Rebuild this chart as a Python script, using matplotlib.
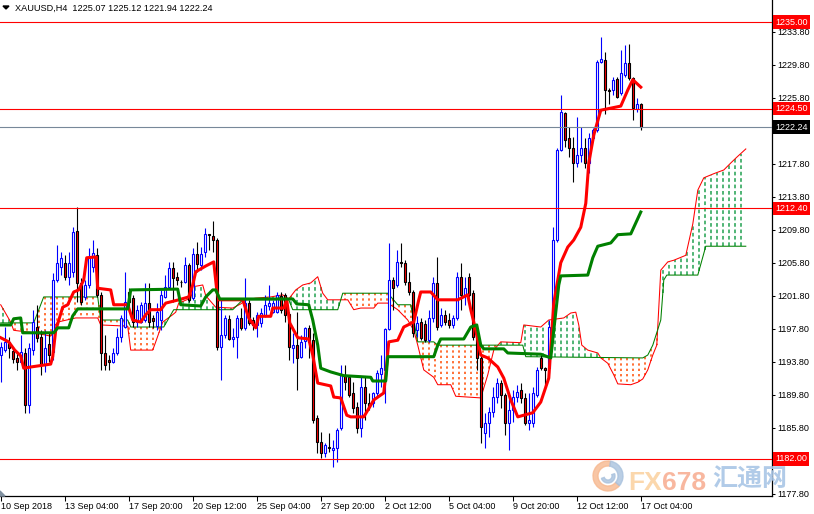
import numpy as np
import matplotlib.pyplot as plt
from matplotlib.patches import Rectangle, Wedge, Polygon
from matplotlib.collections import LineCollection
from matplotlib.transforms import IdentityTransform

plt.rcParams['font.family'] = ['Liberation Sans', 'DejaVu Sans']

# H4 candles, one per bar (index 0 = leftmost visible bar)
opens = [1194.6, 1195.2, 1196.2, 1195.1, 1194.25, 1193.8, 1194.85, 1188.5, 1195.2, 1198.0,
         1196.8, 1193.4, 1195.9, 1195.0, 1203.7, 1205.3, 1205.8, 1204.1, 1204.7, 1209.65,
         1203.35, 1201.65, 1203.1, 1205.3, 1206.7, 1201.9, 1194.85, 1194.0, 1193.76, 1194.85,
         1196.8, 1198.0, 1202.25, 1201.5, 1198.6, 1198.6, 1198.85, 1200.9, 1199.1, 1198.1,
         1198.85, 1201.65, 1202.9, 1205.2, 1204.1, 1203.5, 1203.5, 1205.5, 1201.5, 1206.9,
         1205.5, 1207.1, 1209.3, 1209.0, 1208.56, 1195.58, 1197.0, 1199.0, 1196.55, 1196.8,
         1199.1, 1197.9, 1200.9, 1198.85, 1198.25, 1198.5, 1199.5, 1200.55, 1199.8, 1199.8,
         1201.8, 1201.9, 1199.6, 1195.5, 1195.8, 1194.4, 1196.3, 1197.9, 1196.4, 1187.0,
         1184.1, 1182.7, 1183.45, 1183.1, 1183.3, 1185.75, 1192.2, 1191.9, 1190.0, 1188.3,
         1185.75, 1190.7, 1188.8, 1188.8, 1190.0, 1192.3, 1192.8, 1197.8, 1203.7, 1203.1,
         1205.9, 1205.8, 1203.5, 1202.25, 1197.6, 1198.6, 1198.4, 1196.4, 1199.1, 1203.35,
         1198.25, 1199.5, 1198.85, 1198.25, 1199.1, 1204.1, 1201.9, 1204.1, 1202.1, 1196.7,
         1194.25, 1185.15, 1186.4, 1187.7, 1189.5, 1191.2, 1189.8, 1186.4, 1187.9, 1189.5,
         1190.4, 1189.4, 1186.4, 1186.4, 1189.8, 1194.2, 1193.0, 1193.0, 1198.0, 1208.6,
         1219.5, 1224.0, 1220.9, 1219.7, 1217.9, 1218.9, 1219.7, 1217.9, 1220.9, 1221.9,
         1230.15, 1230.4, 1226.75, 1226.75, 1228.1, 1226.4, 1228.57, 1230.0, 1228.2, 1224.4,
         1225.07]
highs = [1196.2, 1198.0, 1196.8, 1195.6, 1195.0, 1197.0, 1195.5, 1196.1, 1200.1, 1200.7,
         1197.6, 1197.6, 1197.3, 1204.6, 1208.0, 1207.1, 1206.7, 1207.1, 1210.1, 1212.56,
         1204.0, 1203.7, 1207.6, 1208.56, 1207.6, 1202.25, 1197.0, 1194.6, 1195.5, 1197.9,
         1199.5, 1204.7, 1202.7, 1201.9, 1200.7, 1201.0, 1203.35, 1203.35, 1199.5, 1200.9,
         1202.5, 1204.3, 1205.9, 1205.9, 1204.7, 1203.7, 1206.5, 1205.8, 1207.6, 1208.3,
         1207.7, 1210.0, 1209.3, 1210.9, 1208.8, 1201.3, 1199.5, 1199.5, 1197.9, 1199.5,
         1200.3, 1204.0, 1201.3, 1199.2, 1199.8, 1200.3, 1201.9, 1203.1, 1201.3, 1202.25,
         1202.25, 1202.1, 1199.8, 1197.3, 1199.8, 1197.0, 1198.0, 1198.25, 1197.3, 1187.3,
         1185.3, 1183.9, 1185.15, 1184.3, 1185.75, 1193.4, 1193.4, 1192.2, 1191.3, 1188.9,
         1191.9, 1191.9, 1190.0, 1190.1, 1192.8, 1194.6, 1197.9, 1208.2, 1204.1, 1207.35,
         1208.2, 1206.1, 1204.7, 1202.5, 1199.3, 1199.1, 1198.85, 1200.1, 1204.1, 1206.5,
         1200.3, 1200.1, 1199.7, 1199.5, 1204.7, 1205.8, 1204.1, 1204.6, 1202.5, 1197.0,
         1194.6, 1187.6, 1188.3, 1190.7, 1191.8, 1191.6, 1190.0, 1189.8, 1190.4, 1191.0,
         1191.2, 1190.0, 1190.0, 1190.7, 1193.2, 1194.85, 1193.15, 1198.85, 1210.1, 1219.7,
         1226.15, 1224.1, 1222.3, 1221.05, 1223.5, 1222.3, 1220.9, 1221.5, 1222.1, 1230.4,
         1233.2, 1231.4, 1227.0, 1228.3, 1228.3, 1231.6, 1232.2, 1232.3, 1228.3, 1225.8,
         1225.12]
lows = [1191.3, 1195.0, 1194.25, 1193.6, 1192.8, 1193.8, 1187.6, 1187.6, 1194.6, 1196.2,
        1192.2, 1192.5, 1193.8, 1194.0, 1203.5, 1204.3, 1203.7, 1203.1, 1204.1, 1201.0,
        1200.7, 1201.3, 1202.7, 1204.7, 1201.65, 1192.8, 1192.8, 1192.8, 1193.6, 1194.6,
        1196.2, 1197.9, 1200.4, 1198.0, 1198.0, 1198.5, 1198.6, 1198.0, 1197.9, 1197.6,
        1197.6, 1201.5, 1202.7, 1201.0, 1203.1, 1202.9, 1203.35, 1201.0, 1201.3, 1204.7,
        1204.9, 1206.5, 1207.35, 1207.1, 1195.2, 1191.6, 1196.7, 1196.4, 1195.6, 1194.25,
        1197.6, 1197.6, 1198.25, 1197.6, 1196.8, 1198.0, 1199.2, 1200.1, 1199.7, 1199.7,
        1199.7, 1198.6, 1194.0, 1193.6, 1190.4, 1194.25, 1195.5, 1194.25, 1186.4, 1182.7,
        1182.1, 1182.2, 1182.85, 1181.0, 1181.6, 1185.5, 1190.4, 1189.5, 1187.6, 1185.15,
        1184.7, 1186.7, 1187.9, 1188.3, 1189.5, 1190.7, 1188.8, 1197.6, 1200.1, 1202.9,
        1205.3, 1203.1, 1201.9, 1196.8, 1196.8, 1196.4, 1196.2, 1196.2, 1198.6, 1197.6,
        1198.0, 1198.25, 1197.9, 1197.9, 1198.85, 1200.1, 1200.7, 1201.65, 1196.4, 1192.8,
        1183.9, 1183.3, 1184.7, 1187.1, 1188.8, 1188.2, 1184.9, 1183.1, 1186.5, 1188.9,
        1188.8, 1186.1, 1185.5, 1185.9, 1189.5, 1192.8, 1190.7, 1192.4, 1197.9, 1208.3,
        1219.3, 1219.8, 1218.6, 1215.6, 1217.4, 1218.0, 1217.3, 1216.7, 1220.7, 1221.65,
        1230.0, 1223.9, 1225.0, 1226.15, 1225.8, 1226.15, 1228.3, 1228.0, 1223.1, 1224.1,
        1221.94]
closes = [1195.6, 1196.2, 1195.5, 1194.1, 1193.8, 1195.0, 1188.5, 1195.5, 1198.6, 1196.7,
          1193.4, 1195.5, 1194.6, 1203.7, 1205.8, 1206.4, 1204.1, 1205.8, 1209.5, 1203.35,
          1201.0, 1203.1, 1206.4, 1207.0, 1201.9, 1194.85, 1193.4, 1193.76, 1194.85, 1196.8,
          1199.1, 1201.0, 1201.0, 1198.6, 1200.1, 1200.7, 1200.9, 1198.6, 1198.7, 1199.8,
          1201.9, 1202.9, 1205.2, 1204.0, 1203.7, 1203.4, 1205.5, 1201.3, 1206.9, 1205.65,
          1206.9, 1209.3, 1209.2, 1208.56, 1195.58, 1197.0, 1199.1, 1196.55, 1196.8, 1199.1,
          1197.9, 1200.9, 1198.5, 1198.25, 1199.5, 1199.7, 1200.7, 1200.9, 1200.9, 1201.9,
          1200.1, 1199.5, 1195.6, 1195.8, 1194.25, 1196.2, 1197.9, 1196.2, 1186.7, 1184.1,
          1182.7, 1183.7, 1183.3, 1183.3, 1185.5, 1192.2, 1191.3, 1189.8, 1188.2, 1185.75,
          1190.7, 1188.8, 1188.3, 1190.0, 1192.4, 1193.0, 1197.8, 1203.7, 1202.7, 1205.9,
          1205.8, 1203.5, 1202.25, 1197.3, 1198.5, 1196.7, 1196.4, 1199.1, 1203.35, 1198.0,
          1199.5, 1198.6, 1198.25, 1199.1, 1204.1, 1201.9, 1202.7, 1201.9, 1196.8, 1194.25,
          1185.9, 1186.36, 1187.7, 1189.5, 1191.2, 1189.8, 1186.4, 1187.9, 1189.5, 1190.1,
          1189.4, 1186.4, 1186.7, 1190.0, 1192.8, 1193.0, 1192.8, 1198.0, 1208.6, 1219.5,
          1224.1, 1220.7, 1219.7, 1217.9, 1218.9, 1219.7, 1217.9, 1220.9, 1221.9, 1230.15,
          1230.5, 1226.75, 1226.6, 1228.0, 1225.9, 1228.8, 1230.0, 1228.2, 1224.6, 1225.05,
          1222.24]

# Ichimoku lines (bar position, price)
tenkan_x = [0, 2, 3.5, 5, 5.75, 7.5, 12.5, 13, 13.75, 15.5, 16.75, 18.25, 19.5, 20.75, 21.5,
            23.75, 24.25, 27.5, 28.25, 31.75, 33, 35, 36.25, 37.5, 40, 41.25, 44.5, 47, 48,
            48.75, 51.25, 53.25, 54, 54.5, 60.5, 62, 63.75, 64.5, 67.5, 68, 70.75, 71.5, 72.25,
            74.25, 77, 78, 79.25, 82.5, 83.25, 85, 86.5, 87.5, 90.75, 91.75, 93.25, 95.75,
            96.25, 97, 99.25, 100.75, 103.25, 104.5, 105, 107.5, 109.25, 114.25, 116.75, 117.5,
            118.75, 120, 121.75, 124.25, 125.75, 127.5, 129.25, 133, 135, 137, 138.25, 140,
            141.75, 143.25, 145, 146.25, 147, 148.25, 150, 155, 156.75, 158, 160]
tenkan_y = [1196.7, 1196.2, 1195.2, 1194.5, 1193.0, 1193.15, 1193.5, 1194.4, 1197.6, 1200.4,
            1200.7, 1202.25, 1202.5, 1203.7, 1206.4, 1206.5, 1202.7, 1202.5, 1200.7, 1200.7,
            1198.85, 1198.6, 1199.5, 1200.1, 1200.1, 1200.9, 1201.3, 1201.65, 1203.1, 1204.7,
            1205.4, 1205.9, 1202.5, 1201.3, 1201.3, 1199.1, 1197.9, 1199.3, 1199.3, 1200.3,
            1200.3, 1201.3, 1198.5, 1196.7, 1196.55, 1194.6, 1191.2, 1190.85, 1189.5, 1189.4,
            1187.3, 1187.1, 1187.1, 1187.9, 1189.15, 1190.0, 1192.2, 1196.2, 1196.4, 1198.0,
            1198.6, 1201.3, 1202.25, 1202.25, 1201.3, 1201.3, 1201.9, 1200.1, 1197.6, 1194.6,
            1194.25, 1193.15, 1191.8, 1189.15, 1187.1, 1187.6, 1188.9, 1191.8, 1200.9, 1205.8,
            1207.7, 1208.56, 1210.1, 1213.0, 1217.9, 1221.3, 1224.3, 1224.8, 1226.75, 1228.0,
            1227.1]
kijun_x = [0, 2.5, 3.25, 5, 5.5, 13.25, 14.25, 17, 18, 19.25, 31.75, 32.5, 44.25, 45, 50,
           51.25, 53, 53.75, 54.75, 73, 74, 77, 78, 79.25, 80, 82.5, 85.75, 92.5, 93, 96.25,
           96.75, 108.25, 109.25, 110, 115.75, 117.5, 119, 120, 120.75, 125.75, 126.75, 135,
           137.5, 138.25, 139.5, 140, 146.75, 148, 149.25, 152.5, 154.25, 157.5, 160]
kijun_y = [1198.25, 1198.25, 1199.0, 1199.1, 1197.3, 1197.3, 1197.9, 1197.9, 1199.35, 1200.2,
           1200.2, 1202.5, 1202.6, 1200.7, 1200.55, 1201.65, 1202.5, 1202.5, 1201.4, 1201.4,
           1200.8, 1200.7, 1198.85, 1195.8, 1193.0, 1192.55, 1192.1, 1191.9, 1191.45, 1191.45,
           1194.4, 1194.4, 1195.8, 1196.55, 1196.55, 1198.0, 1198.25, 1195.8, 1195.35, 1195.35,
           1194.85, 1194.7, 1194.25, 1197.6, 1203.1, 1204.2, 1204.3, 1206.4, 1207.8, 1208.2,
           1209.2, 1209.3, 1211.95]
span_a_x = [0, 2.5, 3.25, 8.25, 12.5, 13.25, 14.25, 18.75, 24.25, 25, 31.75, 32.5, 38, 38.75,
            40.5, 43, 43.75, 44.5, 47.5, 48.25, 50.5, 51.25, 53.75, 58, 60, 61.25, 63.75, 67.5,
            70.5, 72, 73.75, 75.5, 77.5, 79.25, 80.5, 81.75, 86.75, 88.25, 90, 93.25, 94.25,
            96.75, 99.25, 101.75, 103.25, 104.25, 105.75, 108.25, 109.25, 112.5, 113.75, 120,
            121.75, 123.25, 125, 130, 130.75, 135, 137, 140.75, 142.5, 143.75, 144.5, 145.25,
            146.75, 149.25, 150, 151.75, 153.25, 154.25, 157.5, 159.25, 160.5, 161.75, 163,
            164, 165, 166.75, 168.25, 171.25, 173, 174.25, 175.75, 178.25, 180.75, 182.5, 184,
            186.25]
span_a_y = [1200.7, 1198.6, 1197.6, 1197.3, 1196.9, 1198.0, 1198.6, 1199.1, 1199.1, 1198.25,
            1198.1, 1195.2, 1195.2, 1196.2, 1198.6, 1199.5, 1199.8, 1200.9, 1201.5, 1202.9,
            1203.1, 1201.8, 1200.4, 1200.3, 1200.8, 1201.3, 1201.5, 1201.65, 1201.9, 1201.4,
            1202.5, 1203.1, 1203.35, 1204.1, 1202.1, 1201.3, 1201.3, 1200.1, 1200.3, 1200.3,
            1200.9, 1200.9, 1200.1, 1198.85, 1197.6, 1195.8, 1192.8, 1191.9, 1191.0, 1191.0,
            1189.6, 1189.4, 1192.2, 1195.2, 1196.2, 1196.1, 1198.25, 1198.0, 1198.85, 1199.1,
            1199.7, 1199.8, 1198.25, 1195.8, 1195.2, 1194.85, 1194.25, 1193.6, 1192.2, 1191.1,
            1191.0, 1191.3, 1191.7, 1192.8, 1194.6, 1195.8, 1204.9, 1205.9, 1206.1, 1206.7,
            1210.5, 1214.6, 1216.1, 1216.6, 1217.05, 1217.9, 1218.6, 1219.6]
span_b_x = [0, 8.25, 10.75, 24.25, 25, 31.75, 32.5, 40.75, 43.25, 58, 60.5, 72, 73, 84.25,
            85.5, 96.75, 99.25, 102.5, 104.25, 108.25, 109.25, 130.5, 131.25, 160.5, 161.75,
            163, 165, 165.75, 166.5, 174.25, 176.25, 186.25]
span_b_y = [1198.5, 1198.5, 1201.65, 1201.65, 1198.85, 1198.85, 1198.0, 1198.0, 1200.1, 1200.1,
            1201.3, 1201.3, 1200.1, 1200.1, 1202.1, 1202.1, 1200.7, 1200.7, 1196.2, 1196.2,
            1195.8, 1195.8, 1194.4, 1194.25, 1194.6, 1195.8, 1198.85, 1203.7, 1204.3, 1204.3,
            1207.8, 1207.8]

levels = [1235.00, 1224.50, 1212.40, 1182.00]
bid = 1222.24
price_ticks = np.arange(1177.8, 1234.0, 4.0)
date_ticks = np.arange(0, 161, 16)
date_labels = ['10 Sep 2018', '13 Sep 04:00', '17 Sep 20:00', '20 Sep 12:00', '25 Sep 04:00',
               '27 Sep 20:00', '2 Oct 12:00', '5 Oct 04:00', '9 Oct 20:00', '12 Oct 12:00',
               '17 Oct 04:00']
title = 'XAUUSD,H4  1225.07 1225.12 1221.94 1222.24'

W, H = 814, 514
fig = plt.figure(figsize=(W / 100, H / 100), dpi=100)
ax = fig.add_axes([0, 18 / H, 772 / W, 496 / H])
ax.set_xlim(-0.175, 192.8)
ax.set_ylim(1177.5, 1237.67)

# kumo hatch: dotted vertical strokes between the two spans
xs = np.arange(0.5, 186.3, 1.5)
a = np.interp(xs, span_a_x, span_a_y)
b = np.interp(xs, span_b_x, span_b_y)
up = a >= b
green_segs = [[(x, y0), (x, y1)] for x, y0, y1 in zip(xs[up], b[up], a[up])]
orange_segs = [[(x, y0), (x, y1)] for x, y0, y1 in zip(xs[~up], b[~up], a[~up])]
ax.add_collection(LineCollection(green_segs, colors=['#20a050'], linewidths=[1.1],
                                 linestyles=[(0, (2.4, 1.8))], zorder=1))
ax.add_collection(LineCollection(orange_segs, colors=['#ff4a00'], linewidths=[1.1],
                                 linestyles=[(0, (1.5, 2.0))], zorder=1))
ax.plot(span_a_x, span_a_y, color='#ff0000', lw=0.75, zorder=2)
ax.plot(span_b_x, span_b_y, color='#008000', lw=0.75, zorder=2)

# candles
o = np.array(opens); hi = np.array(highs); lo = np.array(lows); c = np.array(closes)
idx = np.arange(len(o))
bull = c >= o
ax.vlines(idx[bull], lo[bull], hi[bull], color='#0000ff', lw=0.8, zorder=3)
ax.vlines(idx[~bull], lo[~bull], hi[~bull], color='black', lw=0.8, zorder=3)
for i in idx:
    bot, top = min(o[i], c[i]), max(o[i], c[i])
    ax.add_patch(Rectangle((i - 0.25, bot), 0.5, top - bot,
                           facecolor='white' if bull[i] else '#ff0000',
                           edgecolor='#0000ff' if bull[i] else 'black', lw=0.8, zorder=4))

ax.plot(tenkan_x, tenkan_y, color='#ff0000', lw=2.2, zorder=5)
ax.plot(kijun_x, kijun_y, color='#008000', lw=2.2, zorder=5)

for v in levels:
    ax.axhline(v, color='#ff0000', lw=0.8, zorder=6)
ax.axhline(bid, color='#778899', lw=0.8, zorder=6)

trans = ax.get_yaxis_transform()
for v in levels:
    ax.text(1 + 3 / 772, v, f'{v:.2f}', transform=trans, color='white', fontsize=6.5,
            va='center', ha='left', clip_on=False, zorder=10,
            bbox=dict(boxstyle='square,pad=0.25', fc='#ff0000', ec='none'))
ax.text(1 + 3 / 772, bid, f'{bid:.2f}', transform=trans, color='white', fontsize=6.5,
        va='center', ha='left', clip_on=False, zorder=10,
        bbox=dict(boxstyle='square,pad=0.25', fc='black', ec='none'))

# price scale; the labels under the level boxes are hidden as in the terminal
ax.yaxis.tick_right()
ax.set_yticks(price_ticks)
ax.set_yticklabels(['' if abs(v - 1181.8) < 0.01 or abs(v - 1221.8) < 0.01 else f'{v:.2f}'
                    for v in price_ticks])
ax.tick_params(axis='y', length=2.5, width=0.75, pad=1.5, labelsize=6.5)
ax.set_xticks(date_ticks)
ax.set_xticklabels(date_labels, ha='left')
ax.tick_params(axis='x', length=3.6, width=0.75, pad=1.0, labelsize=6.5)
for s in ['top', 'left']:
    ax.spines[s].set_visible(False)
for s in ['bottom', 'right']:
    ax.spines[s].set_linewidth(0.9)

fig.text(15 / W, 1 - 8 / H, title, fontsize=6.6, va='center', ha='left')
fig.add_artist(Polygon([[3, H - 6], [9, H - 6], [6, H - 9]], closed=True, color='black',
                       transform=IdentityTransform()))
fig.add_artist(Polygon([[0, 18], [0, 23], [5, 18]], closed=True, color='#8090a0',
                       transform=IdentityTransform()))

# watermark
fig.add_artist(Wedge((6.08, 0.38), 0.15, 80, 320, width=0.05, color='#f7b88f', alpha=0.8,
                     transform=fig.dpi_scale_trans))
fig.add_artist(Wedge((6.08, 0.38), 0.15, 320, 440, width=0.05, color='#a9c2de', alpha=0.8,
                     transform=fig.dpi_scale_trans))
fig.add_artist(Wedge((6.08, 0.38), 0.07, 200, 20, width=0.03, color='#a9c2de', alpha=0.8,
                     transform=fig.dpi_scale_trans))
fig.text(628 / W, 1 - 483 / H, 'FX', fontsize=19, fontweight='bold', color='#fbd3a3',
         alpha=0.9, va='center', ha='left', zorder=20)
fig.text(662 / W, 1 - 483 / H, '678', fontsize=19, fontweight='bold', color='#f8b095',
         alpha=0.9, va='center', ha='left', zorder=20)
fig.text(712 / W, 1 - 479 / H, '汇通网', family=['Noto Sans CJK SC'], fontsize=18,
         fontweight='bold', color='#a9c6e6', alpha=0.9, va='center', ha='left', zorder=20)

fig.savefig('out.png', dpi=100)
